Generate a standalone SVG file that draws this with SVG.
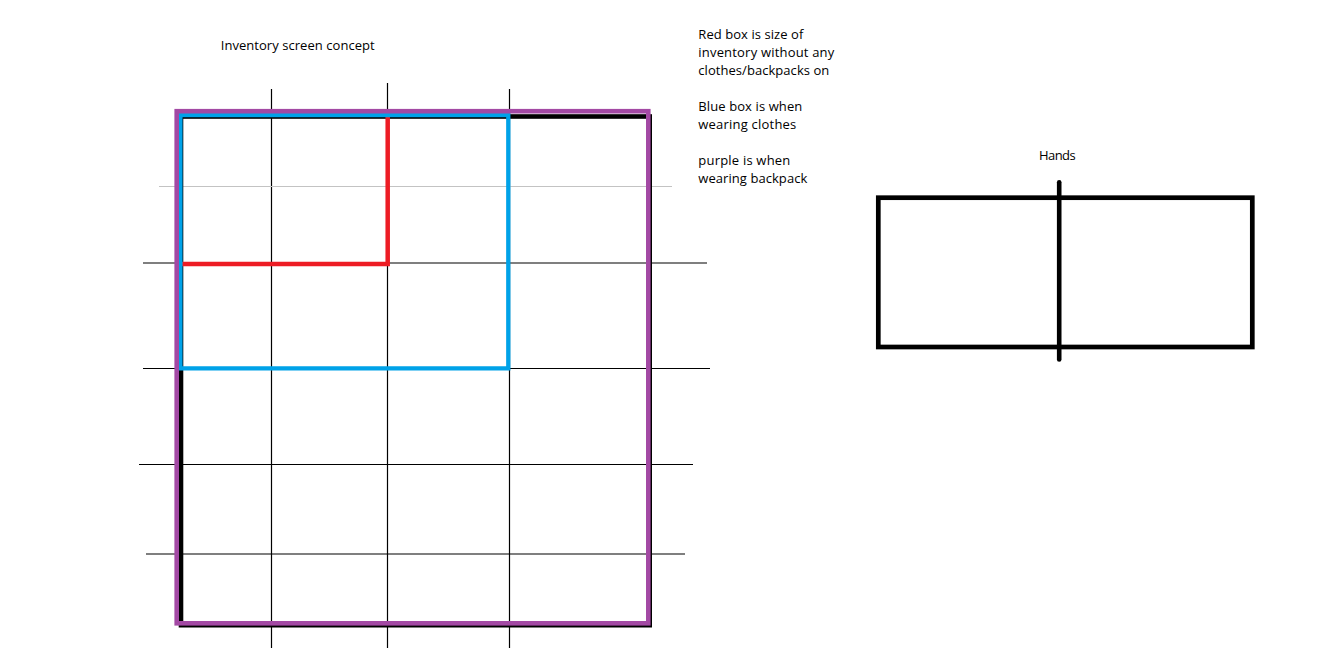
<svg xmlns="http://www.w3.org/2000/svg" width="1336" height="666" viewBox="0 0 1336 666">
<style>
text{font-family:"Open Sans","Liberation Sans",sans-serif;font-size:13px;fill:#000}
.g{stroke:#000;stroke-width:1.2;fill:none}
.gray{stroke:#c3c3c3;stroke-width:1.2;fill:none}
.box{fill:none;stroke-linejoin:miter}
</style>
<rect width="1336" height="666" fill="#fff"/>
<g id="title"><text x="220.7" y="50" textLength="154">Inventory screen concept</text></g>
<g id="grid">
<line class="g" x1="271.5" y1="89" x2="271.5" y2="648"/>
<line class="g" x1="387.5" y1="83" x2="387.5" y2="648"/>
<line class="g" x1="509.5" y1="89" x2="509.5" y2="648"/>
<line class="g" x1="143" y1="263" x2="707" y2="263"/>
<line class="g" x1="143" y1="368.5" x2="710" y2="368.5"/>
<line class="g" x1="139" y1="464.5" x2="693" y2="464.5"/>
<line class="g" x1="146" y1="554" x2="685" y2="554"/>
<line class="gray" x1="159" y1="186.5" x2="672" y2="186.5"/>
</g>
<g id="boxes">
<rect id="black-box" class="box" x="181" y="116.5" width="468.7" height="508.7" stroke="#000" stroke-width="4.6"/>
<path id="red-box" class="box" d="M180 263.9H387.7V115" stroke="#ED1C24" stroke-width="4.5"/>
<path id="blue-box" class="box" d="M180.4 115H508.3V368.3H180.4Z" stroke="#00A2E8" stroke-width="4.3"/>
<rect id="purple-box" class="box" x="176.7" y="111.2" width="471.6" height="512.1" stroke="#A349A4" stroke-width="4.6"/>
</g>
<g id="legend">
<text x="698.3" y="39" textLength="105">Red box is size of</text>
<text x="698.3" y="57" textLength="136">inventory without any</text>
<text x="698.3" y="75" textLength="131">clothes/backpacks on</text>
<text x="698.3" y="111" textLength="104">Blue box is when</text>
<text x="698.3" y="129" textLength="98">wearing clothes</text>
<text x="698.3" y="164.5" textLength="92">purple is when</text>
<text x="698.3" y="182.5" textLength="109">wearing backpack</text>
</g>
<g id="hands">
<text x="1039" y="159.5" textLength="36.7">Hands</text>
<rect x="878.3" y="197.7" width="374" height="149.3" fill="none" stroke="#000" stroke-width="4.7"/>
<line x1="1059.2" y1="182.3" x2="1059.2" y2="359.4" stroke="#000" stroke-width="4.6" stroke-linecap="round"/>
</g>
</svg>
